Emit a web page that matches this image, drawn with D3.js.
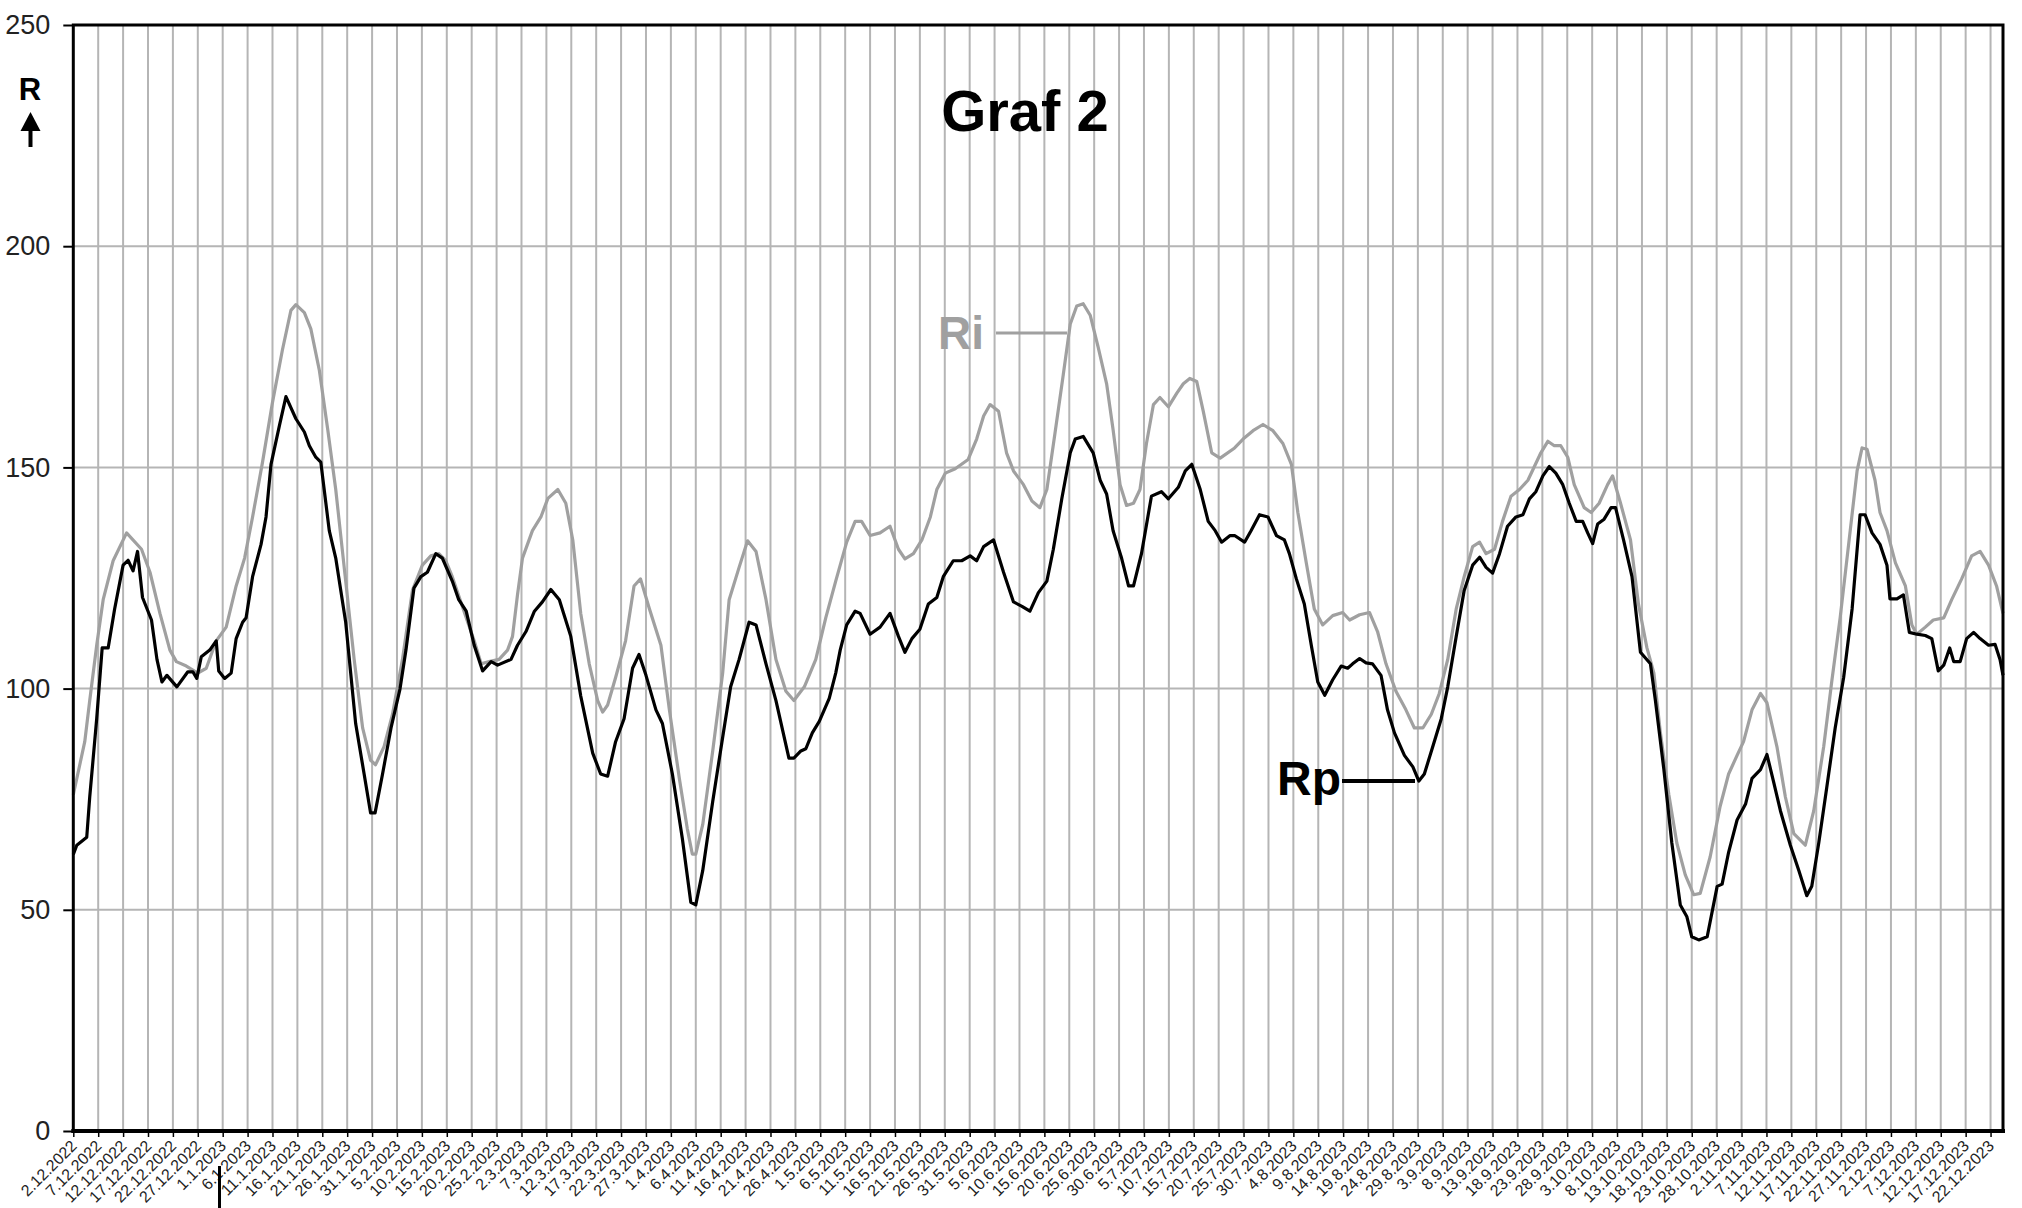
<!DOCTYPE html>
<html><head><meta charset="utf-8">
<script src="https://cdn.jsdelivr.net/npm/d3@7"></script>
<style>
body{margin:0;background:#fff}
svg{display:block}
text{font-family:"Liberation Sans",Arial,Helvetica,sans-serif}
</style>
</head><body>
<svg id="chart" width="2022" height="1208"></svg>
<script>
// ---- data (day offset from 2.12.2022, value) ----
const tickLabels = ["2.12.2022","7.12.2022","12.12.2022","17.12.2022","22.12.2022","27.12.2022",
"1.1.2023","6.1.2023","11.1.2023","16.1.2023","21.1.2023","26.1.2023","31.1.2023",
"5.2.2023","10.2.2023","15.2.2023","20.2.2023","25.2.2023",
"2.3.2023","7.3.2023","12.3.2023","17.3.2023","22.3.2023","27.3.2023",
"1.4.2023","6.4.2023","11.4.2023","16.4.2023","21.4.2023","26.4.2023",
"1.5.2023","6.5.2023","11.5.2023","16.5.2023","21.5.2023","26.5.2023","31.5.2023",
"5.6.2023","10.6.2023","15.6.2023","20.6.2023","25.6.2023","30.6.2023",
"5.7.2023","10.7.2023","15.7.2023","20.7.2023","25.7.2023","30.7.2023",
"4.8.2023","9.8.2023","14.8.2023","19.8.2023","24.8.2023","29.8.2023",
"3.9.2023","8.9.2023","13.9.2023","18.9.2023","23.9.2023","28.9.2023",
"3.10.2023","8.10.2023","13.10.2023","18.10.2023","23.10.2023","28.10.2023",
"2.11.2023","7.11.2023","12.11.2023","17.11.2023","22.11.2023","27.11.2023",
"2.12.2023","7.12.2023","12.12.2023","17.12.2023","22.12.2023"];
const tickDays = tickLabels.map((_, i) => i * 5);
const yTicks = [0, 50, 100, 150, 200, 250];
const gridValues = [50, 100, 150, 200];

const rpPoints = [[0,62.5],[0.7,64.6],[2.7,66.4],[3.3,75.5],[4.7,93.2],[5.8,109.2],[7,109.2],[8.3,118],[10,127.9],[11,129],[12,126.6],[12.9,131],[13.9,120.6],[15.7,115.5],[16.8,106.6],[17.8,101.5],[18.8,103],[20.8,100.4],[23,103.8],[24,103.8],[24.8,102.3],[25.7,107.2],[27.4,108.7],[28.7,110.8],[29.2,104],[30.4,102.3],[31.7,103.5],[32.7,111.3],[34,115],[34.7,116],[36,125.3],[37.7,132.6],[38.7,138.8],[39.7,150.7],[41.4,159.5],[42.7,166],[44.7,161],[46.4,158],[47.4,154.9],[48.7,152.3],[49.7,151.2],[51.4,135.7],[52.7,129.5],[54.7,115],[56.7,92.1],[58.4,80.7],[59.7,71.9],[60.6,71.9],[62.1,80.7],[63.8,91.1],[65.6,99.9],[66.8,108.7],[68.4,122.7],[69.8,125.3],[71.1,126.3],[72.8,130.5],[74.1,129.5],[76.1,124.3],[77.4,120.1],
[78.9,117.5],[80.5,109.8],[82.2,104],[83.9,106.1],[85.2,105.3],[87.9,106.6],[89.2,109.8],[90.9,112.9],[92.6,117.5],[94.2,119.6],[95.9,122.4],[97.6,120.1],[99.9,111.8],[101.9,98.3],[104.3,85.4],[105.9,80.7],[107.3,80.2],[108.9,88],[110.6,93.2],[112.3,104.6],[113.6,107.7],[115,103],[117,95.2],[118.3,92.1],[120.3,80.7],[122.3,66.1],[124,51.7],[125,51.1],[126.4,58.9],[128.4,74.5],[130.4,89],[132,100.4],[133.7,106.6],[135.7,115],[137.1,114.4],[139.1,105.6],[141.1,97.3],[143.7,84.3],[144.7,84.3],[146.1,85.9],[147.1,86.4],[148.4,90],[149.8,92.6],[151.8,97.8],[153.1,103.5],[154,108.7],[155.3,114.4],
[157,117.5],[158,117],[160,112.3],[162,113.9],[164,117],[165.7,111.8],[167,108.2],[168.4,111.3],[170,113.4],[171.7,119.1],[173.4,120.6],[174.7,125.3],[176.7,128.9],[178.4,128.9],[180.1,130],[181.4,128.9],[182.8,132.1],[184.8,133.6],[186.8,126.3],[188.8,119.6],[190.5,118.6],[192.1,117.5],[193.8,121.7],[195.5,124.3],[196.8,131.5],[198.5,142.9],[200.2,153.3],[201.2,156.4],[202.8,157],[204.8,153.3],[206.2,147.1],[207.5,144],[208.8,135.7],[210.5,129.5],[211.9,123.2],[212.9,123.2],[214.5,130.5],[216.5,143.5],[218.5,144.5],[219.9,142.9],[221.9,145.5],[223.3,149.2],[224.6,150.7],[226.3,145],[227.9,137.8],[229.3,135.7],[230.6,133.1],[232.3,134.6],
[233.2,134.6],[235.2,133.1],[236.5,135.7],[238.2,139.3],[239.9,138.8],[241.6,134.6],[243.2,133.6],[244.2,130.5],[245.6,124.8],[247.2,119.1],[248.6,109.8],[249.9,101.5],[251.3,98.5],[252.9,102],[254.6,105.1],[255.9,104.6],[256.9,105.6],[258.3,106.8],[259.6,105.8],[260.9,105.6],[262.6,103],[263.9,95.2],[265.3,90],[267.3,84.9],[269,82.3],[270.2,79.1],[271.3,80.7],[273,86.9],[274.7,93.2],[276,100.4],[277.7,111.8],[279.3,122.2],[281,127.9],[282.4,129.7],[283.7,127.4],[285,126.1],[286.4,130.5],[288,136.7],[289.7,138.8],[291.1,139.3],[292.4,142.9],[293.7,144.5],[295.1,148.1],[296.4,150.2],[297.7,148.7],[299.1,146.1],[300.4,141.9],[301.8,137.8],[303.1,137.8],[304.1,135.2],[305.1,132.8],[306.1,137.2],[307.4,138.3],[308.8,140.9],[309.7,140.9],
[311.3,133.6],[313,125.3],[314.7,108.2],[316.7,105.6],[317.7,97.3],[319.4,81.7],[321,65.1],[322.7,51.1],[324,48.5],[325,43.9],[326.4,43.2],[328.1,43.9],[330.1,55.3],[331.1,55.8],[332.4,63],[334.1,70.3],[335.8,73.9],[337.1,79.7],[338.8,81.7],[340.1,85.1],[341.4,79.1],[342.8,72.4],[344.8,64.6],[346.5,58.9],[348.1,53.2],[349.1,55.3],[350.5,65.1],[352.1,77.6],[353.8,91.1],[355.5,102.5],[357.2,118],[358.8,139.3],[359.8,139.3],[361.2,135.2],[362.8,132.6],[364.2,127.9],[364.8,120.3],[366.2,120.3],[367.5,121.2],[368.7,112.7],[370.2,112.3],[371.9,112],[373.2,111.3],[374.5,104],[375.6,105.3],[376.8,109.2],[377.6,106.1],[378.9,106.1],[380.2,111.3],[381.6,112.7],[382.9,111.3],[384.6,109.8],[385.9,110],[386.9,106.6],[387.5,103]];

const riPoints = [[0,76],[2.3,88],[3.3,97.3],[4.7,109.8],[6,120.1],[8,128.9],[10.7,135.2],[13.7,131.5],[15.4,126.3],[17.4,117],[19.4,108.7],[20.7,106.1],[22.7,105.1],[25,103.5],[26.7,104.6],[28.7,110.8],[30.7,113.9],[32.7,123.2],[34.4,129.5],[36,138.8],[38,151.2],[40,164.7],[42,176.6],[43.7,185.5],[44.7,186.8],[46.4,185],[47.7,181.3],[49.4,172],[51.1,158.5],[52.7,145],[54.7,124.3],[56.4,106.6],[58.1,91.1],[59.7,83.8],[60.7,82.8],[62.4,86.9],[64.1,94.2],[66.1,106.6],[68.1,122.2],[70.1,127.9],[71.8,130],[73.4,130.5],[74.8,128.9],[76.1,125.3],
[78.9,116],[80.5,110.8],[81.9,105.6],[83.5,106.1],[85.5,106.6],[87.2,108.7],[88.2,111.8],[89.2,121.2],[90.2,129.5],[92.2,135.7],[93.9,138.8],[95.3,143],[97.3,145],[98.9,141.9],[100.3,133.6],[101.9,117],[103.6,105.6],[105.3,97.3],[106.3,94.7],[107.3,96.3],[108.9,102.5],[110.9,110.8],[112.6,123.2],[113.9,124.8],[115.7,118],[118,109.8],[119.7,95.2],[121.7,79.7],[123.3,68.3],[124.3,62.6],[125,62.6],[126.4,69.3],[128.4,85.9],[130.4,103.5],[131.7,120.1],[133.7,127.4],[135.4,133.4],[137.1,131],[139.1,120.1],[141.1,106.6],[143.1,99.4],[144.7,97.3],[146.8,100.4],[149.1,106.6],[151.1,116],[153.1,124.3],
[155.3,133.1],[157,137.8],[158.3,137.8],[160,134.6],[162,135.2],[164,136.7],[165.7,131.5],[167,129.3],[168.7,130.5],[170.4,133.6],[172.1,138.8],[173.4,145],[175.1,148.7],[177.1,149.7],[179.7,151.8],[181.4,156.4],[182.8,161.6],[184.1,164.2],[185.8,162.7],[187.4,153.3],[188.8,149.2],[190.8,146.1],[192.5,142.4],[194.1,140.9],[195.5,145],[197.1,157.5],[198.8,171],[200.2,182.4],[201.5,186.5],[202.8,187],[204.2,184.4],[205.8,177.2],[207.5,168.9],[208.8,158.5],[210.2,146.1],[211.5,141.4],[212.9,141.9],[214.2,145],[215.5,155.4],[216.9,164.2],[218.2,165.8],[219.9,163.7],[221.6,166.8],[222.9,168.9],[224.2,170.1],[225.6,169.4],[226.9,162.7],[228.6,153.3],[230.3,152.1],
[233.2,154.4],[234.9,156.4],[236.9,158.3],[238.9,159.7],[240.9,158.3],[242.9,155.4],[244.6,150.7],[245.9,139.8],[247.6,128.4],[249.2,118],[250.9,114.4],[252.9,116.5],[254.9,117.2],[256.3,115.5],[258.3,116.7],[260.3,117.2],[261.9,112.9],[263.6,105.6],[265.6,99.4],[267.6,95.2],[269.3,91.1],[271,91.1],[272.7,94.2],[274.3,98.9],[276,106.6],[277.7,118],[279.3,125.3],[281,132.1],[282.4,133.1],[283.7,130.5],[285.4,131.5],[287,137.8],[288.7,143.5],[290.4,145],[292.1,147.1],[293.4,150.2],[294.7,153.3],[296.1,155.9],[297.4,154.9],[298.7,154.9],[300.1,152.3],[301.4,146.1],[303.4,140.9],[304.8,139.8],[306.4,141.9],[308.1,146.1],[309.1,148.1],
[310.7,141.9],[312.7,133.6],[314.3,119.1],[316,109.2],[317.4,103.5],[318.7,90],[320.4,76],[322,65.1],[323.7,57.9],[325.4,53.4],[326.7,53.7],[328.7,62],[330.7,73.4],[332.4,80.7],[334.1,84.9],[335.4,88],[337.1,95.2],[338.8,98.9],[340.1,96.8],[342.1,86.9],[343.8,75.5],[345.5,67.2],[347.8,64.6],[349.5,72.4],[351.5,86.9],[353.1,101.5],[354.8,116],[356.5,132.6],[358.2,149.2],[359.2,154.4],[360.2,154.1],[361.8,147.1],[362.8,139.8],[364.2,135.7],[365.9,128.4],[367.9,123.2],[369.2,114.4],[370.2,112.3],[371.9,113.9],[373.5,115.5],[375.6,116],[377.2,120.1],[379.2,124.8],[381.2,130],[382.9,131],[384.6,127.9],[386.2,123.2],[387.5,117]];

// ---- layout ----
const svg = d3.select("#chart");
const L = 73.3, R = 2003, T = 25, B = 1131;
const x = d3.scaleLinear().domain([0, 387.5]).range([L, R]);
const y = d3.scaleLinear().domain([0, 250]).range([B, T]);
const gridColor = "#b5b5b5";

// gridlines
svg.append("g").selectAll("line").data(tickDays.filter(d => d > 0)).join("line")
  .attr("x1", d => x(d)).attr("x2", d => x(d)).attr("y1", T).attr("y2", B)
  .attr("stroke", gridColor).attr("stroke-width", 2);
svg.append("g").selectAll("line").data(gridValues).join("line")
  .attr("x1", L).attr("x2", R).attr("y1", d => y(d)).attr("y2", d => y(d))
  .attr("stroke", gridColor).attr("stroke-width", 2);

// lines
const line = d3.line().x(d => x(d[0])).y(d => y(d[1]));
svg.append("path").datum(riPoints).attr("d", line)
  .attr("fill", "none").attr("stroke", "#a0a0a0").attr("stroke-width", 3.2).attr("stroke-linejoin", "round");
svg.append("path").datum(rpPoints).attr("d", line)
  .attr("fill", "none").attr("stroke", "#000").attr("stroke-width", 3.2).attr("stroke-linejoin", "round");

// frame
svg.append("rect").attr("x", L).attr("y", T).attr("width", R - L).attr("height", B - T)
  .attr("fill", "none").attr("stroke", "#000").attr("stroke-width", 3);
svg.append("line").attr("x1", L - 2).attr("x2", R + 2).attr("y1", B).attr("y2", B)
  .attr("stroke", "#000").attr("stroke-width", 4);

// y axis
const yAxis = d3.axisLeft(y).tickValues(yTicks).tickSize(10).tickPadding(13).tickFormat(d3.format("d"));
const gy = svg.append("g").attr("transform", `translate(${L},0)`).call(yAxis);
gy.select(".domain").remove();
gy.selectAll(".tick line").attr("stroke", "#000").attr("stroke-width", 2);
gy.selectAll(".tick text").attr("font-size", 27).attr("fill", "#222")
  .style("font-family", '"Liberation Sans",Arial,sans-serif');

// x axis
const xAxis = d3.axisBottom(x).tickValues(tickDays).tickSize(6).tickFormat((d, i) => tickLabels[i]);
const gx = svg.append("g").attr("transform", `translate(0,${B})`).call(xAxis);
gx.select(".domain").remove();
gx.selectAll(".tick line").attr("stroke", "#000").attr("stroke-width", 1.5);
gx.selectAll(".tick text")
  .attr("font-size", 16).attr("fill", "#222")
  .style("font-family", '"Liberation Sans",Arial,sans-serif')
  .attr("text-anchor", "end")
  .attr("dy", "0.35em")
  .attr("y", 0)
  .attr("transform", "translate(0,12) rotate(-45)");

// small stray mark below axis
svg.append("line").attr("x1", 219.5).attr("x2", 219.5).attr("y1", 1166).attr("y2", 1208)
  .attr("stroke", "#000").attr("stroke-width", 3);

// title
svg.append("text").attr("x", 1025).attr("y", 131).attr("text-anchor", "middle")
  .attr("font-size", 58).attr("font-weight", "bold").attr("fill", "#000").text("Graf 2");

// y axis label with arrow
svg.append("text").attr("x", 30).attr("y", 99.5).attr("text-anchor", "middle")
  .attr("font-size", 31).attr("font-weight", "bold").attr("fill", "#000").text("R");
svg.append("line").attr("x1", 30.5).attr("x2", 30.5).attr("y1", 128).attr("y2", 147)
  .attr("stroke", "#000").attr("stroke-width", 4);
svg.append("path").attr("d", "M30.5,112 L40.5,131 L20.5,131 Z").attr("fill", "#000");

// series labels
svg.append("text").attr("x", 938).attr("y", 349).attr("font-size", 46).attr("font-weight", "bold")
  .attr("fill", "#a0a0a0").text("Ri");
svg.append("line").attr("x1", 996).attr("x2", 1067).attr("y1", 333).attr("y2", 333)
  .attr("stroke", "#a0a0a0").attr("stroke-width", 3);
svg.append("text").attr("x", 1277).attr("y", 795).attr("font-size", 48).attr("font-weight", "bold")
  .attr("fill", "#000").text("Rp");
svg.append("line").attr("x1", 1342).attr("x2", 1415).attr("y1", 781).attr("y2", 781)
  .attr("stroke", "#000").attr("stroke-width", 4);
</script>
</body></html>
